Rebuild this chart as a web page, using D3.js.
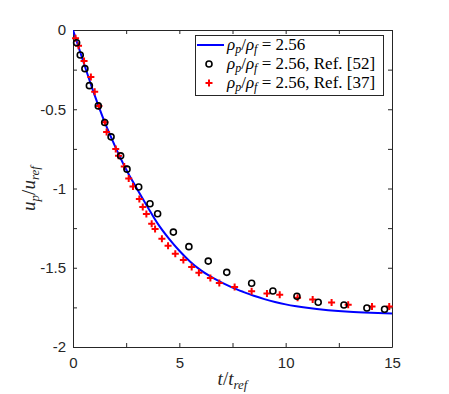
<!DOCTYPE html>
<html>
<head>
<meta charset="utf-8">
<script src="https://cdn.jsdelivr.net/npm/d3@7"></script>
<style>
  html, body { margin: 0; padding: 0; background: #fff; }
  svg { display: block; }
</style>
</head>
<body>
<div id="chart"></div>
<script>
// ---- data ----
const lineT = [0,0.5,1,1.5,2,2.5,3,3.5,4,4.5,5,5.5,6,6.5,7,7.5,8,8.5,9,9.5,10,10.5,11,12,13,14,15];
const lineU = [0,-0.205,-0.405,-0.585,-0.74,-0.88,-1.0,-1.115,-1.225,-1.315,-1.393,-1.46,-1.515,-1.558,-1.594,-1.625,-1.652,-1.677,-1.698,-1.716,-1.731,-1.743,-1.753,-1.768,-1.778,-1.784,-1.788];

const circleT = [0.17,0.34,0.56,0.77,1.19,1.49,1.79,2.24,2.54,3.09,3.62,3.98,4.72,5.45,6.36,7.23,8.40,9.40,10.53,11.53,12.74,13.82,14.65];
const circleU = [-0.08,-0.158,-0.244,-0.351,-0.479,-0.584,-0.674,-0.794,-0.878,-0.991,-1.096,-1.159,-1.275,-1.367,-1.458,-1.529,-1.598,-1.647,-1.68,-1.718,-1.735,-1.754,-1.762];

const crossT = [0.12,0.26,0.52,0.84,1.02,1.22,1.50,1.58,2.01,2.14,2.41,2.62,2.82,3.12,3.28,3.45,3.70,3.86,4.18,4.47,4.81,5.19,5.58,5.92,6.46,6.88,7.60,8.40,9.12,9.72,10.56,11.27,12.16,12.94,14.06,14.87];
const crossU = [-0.052,-0.10,-0.195,-0.297,-0.389,-0.479,-0.582,-0.643,-0.750,-0.794,-0.861,-0.937,-0.987,-1.067,-1.117,-1.161,-1.222,-1.256,-1.317,-1.361,-1.411,-1.451,-1.495,-1.531,-1.565,-1.596,-1.621,-1.648,-1.663,-1.670,-1.689,-1.701,-1.720,-1.733,-1.745,-1.745];

const xTicks = [0,2.5,5,7.5,10,12.5,15];
const xTickLabels = ["0","","5","","10","","15"];
const yTicks = [0,-0.25,-0.5,-0.75,-1,-1.25,-1.5,-1.75,-2];
const yTickLabels = ["0","","-0.5","","-1","","-1.5","","-2"];

const legendLabels = [", Ref.  [52]", ", Ref.  [37]"];

// ---- layout ----
const W = 449, H = 394;
const margin = {left: 73, top: 30, right: W - 392, bottom: H - 347};
const axisColor = "#262626";

const svg = d3.select("#chart").append("svg")
  .attr("width", W).attr("height", H);

const x = d3.scaleLinear().domain([0, 15]).range([margin.left, W - margin.right]);
const y = d3.scaleLinear().domain([-2, 0]).range([H - margin.bottom, margin.top]);

svg.append("rect")
  .attr("x", x(0)).attr("y", y(0))
  .attr("width", x(15) - x(0)).attr("height", y(-2) - y(0))
  .attr("fill", "#fff");

const tickFont = "'Liberation Sans', Arial, sans-serif";

function styleAxis(g) {
  g.selectAll("path.domain").attr("stroke", axisColor).attr("stroke-width", 1);
  g.selectAll(".tick line").attr("stroke", axisColor).attr("stroke-width", 1);
  g.selectAll(".tick text").attr("fill", axisColor)
    .style("font-family", tickFont).style("font-size", "15px");
}

svg.append("g")
  .attr("transform", `translate(0,${y(-2)})`)
  .call(d3.axisBottom(x).tickValues(xTicks).tickSizeInner(-4).tickSizeOuter(0).tickPadding(10)
    .tickFormat((d, i) => xTickLabels[i]))
  .call(styleAxis);
svg.append("g")
  .attr("transform", `translate(0,${y(0)})`)
  .call(d3.axisTop(x).tickValues(xTicks).tickSizeInner(-4).tickSizeOuter(0).tickFormat(() => ""))
  .call(styleAxis);
svg.append("g")
  .attr("transform", `translate(${x(0)},0)`)
  .call(d3.axisLeft(y).tickValues(yTicks).tickSizeInner(-4).tickSizeOuter(0).tickPadding(7)
    .tickFormat((d, i) => yTickLabels[i]))
  .call(styleAxis);
svg.append("g")
  .attr("transform", `translate(${x(15)},0)`)
  .call(d3.axisRight(y).tickValues(yTicks).tickSizeInner(-4).tickSizeOuter(0).tickFormat(() => ""))
  .call(styleAxis);

svg.append("clipPath").attr("id", "clip").append("rect")
  .attr("x", x(0)).attr("y", y(0))
  .attr("width", x(15) - x(0)).attr("height", y(-2) - y(0));

const plot = svg.append("g").attr("clip-path", "url(#clip)");

const lineData = lineT.map((t, i) => [t, lineU[i]]);
plot.append("path")
  .datum(lineData)
  .attr("fill", "none")
  .attr("stroke", "#0000ff")
  .attr("stroke-width", 2)
  .attr("d", d3.line().x(d => x(d[0])).y(d => y(d[1])).curve(d3.curveMonotoneX));

const crossData = crossT.map((t, i) => [t, crossU[i]]);
const cs = 3.5;
svg.append("g").selectAll("path.cross")
  .data(crossData).join("path")
  .attr("class", "cross")
  .attr("d", d => `M${x(d[0]) - cs},${y(d[1])}H${x(d[0]) + cs}M${x(d[0])},${y(d[1]) - cs}V${y(d[1]) + cs}`)
  .attr("stroke", "#ff0000")
  .attr("stroke-width", 2)
  .attr("fill", "none");

const circleData = circleT.map((t, i) => [t, circleU[i]]);
svg.append("g").selectAll("circle.pt")
  .data(circleData).join("circle")
  .attr("class", "pt")
  .attr("cx", d => x(d[0]))
  .attr("cy", d => y(d[1]))
  .attr("r", 3)
  .attr("fill", "none")
  .attr("stroke", "#000")
  .attr("stroke-width", 1.6);

const mathFont = "'Liberation Serif', 'Times New Roman', serif";
const xt = svg.append("text")
  .attr("x", (x(0) + x(15)) / 2)
  .attr("y", 385)
  .attr("text-anchor", "middle")
  .style("font-family", mathFont)
  .style("font-size", "19px")
  .attr("fill", axisColor);
xt.append("tspan").style("font-style", "italic").text("t");
xt.append("tspan").text("/");
xt.append("tspan").style("font-style", "italic").text("t");
xt.append("tspan").style("font-style", "italic").style("font-size", "13px").attr("dy", 4).text("ref");

const yt = svg.append("text")
  .attr("transform", `translate(35,${(y(0) + y(-2)) / 2}) rotate(-90)`)
  .attr("text-anchor", "middle")
  .style("font-family", mathFont)
  .style("font-size", "19px")
  .attr("fill", axisColor);
yt.append("tspan").style("font-style", "italic").text("u");
yt.append("tspan").style("font-style", "italic").style("font-size", "13px").attr("dy", 4).text("p");
yt.append("tspan").attr("dy", -4).text("/");
yt.append("tspan").style("font-style", "italic").text("u");
yt.append("tspan").style("font-style", "italic").style("font-size", "13px").attr("dy", 4).text("ref");

const lg = svg.append("g");
lg.append("rect")
  .attr("x", 195.5).attr("y", 35.5).attr("width", 188).attr("height", 60)
  .attr("fill", "#fff").attr("stroke", axisColor).attr("stroke-width", 1);

const rowsY = [45, 64, 83];
lg.append("line")
  .attr("x1", 197).attr("x2", 224).attr("y1", rowsY[0]).attr("y2", rowsY[0])
  .attr("stroke", "#0000ff").attr("stroke-width", 2);
lg.append("circle")
  .attr("cx", 209).attr("cy", rowsY[1]).attr("r", 3)
  .attr("fill", "none").attr("stroke", "#000").attr("stroke-width", 1.6);
lg.append("path")
  .attr("d", `M${209 - cs},${rowsY[2]}H${209 + cs}M209,${rowsY[2] - cs}V${rowsY[2] + cs}`)
  .attr("stroke", "#ff0000").attr("stroke-width", 2);

function legendText(yy, suffix) {
  const t = lg.append("text")
    .attr("x", 227).attr("y", yy + 5)
    .style("font-family", mathFont)
    .style("font-size", "17px")
    .attr("fill", "#000");
  t.append("tspan").style("font-style", "italic").text("ρ");
  t.append("tspan").style("font-style", "italic").style("font-size", "12px").attr("dy", 3).text("p");
  t.append("tspan").attr("dy", -3).text("/");
  t.append("tspan").style("font-style", "italic").text("ρ");
  t.append("tspan").style("font-style", "italic").style("font-size", "12px").attr("dy", 3).text("f");
  t.append("tspan").attr("dy", -3).text(" = 2.56" + suffix);
}
legendText(rowsY[0], "");
legendText(rowsY[1], legendLabels[0]);
legendText(rowsY[2], legendLabels[1]);
</script>
</body>
</html>
